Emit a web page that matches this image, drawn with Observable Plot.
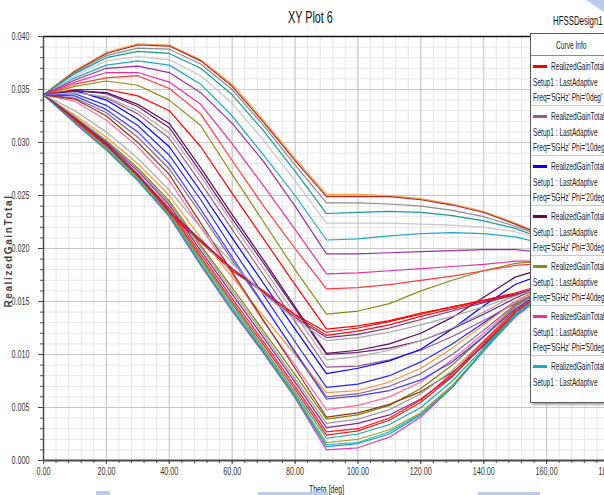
<!DOCTYPE html>
<html><head><meta charset="utf-8">
<script src="https://cdn.jsdelivr.net/npm/d3@7"></script>
<script src="https://cdn.jsdelivr.net/npm/@observablehq/plot@0.6"></script>
<style>
html,body{margin:0;padding:0;background:#fff;}
body{width:604px;height:495px;overflow:hidden;position:relative;font-family:"Liberation Sans",Arial,sans-serif;}
#chart{position:absolute;left:0;top:0;width:620px;}
#chart svg{max-width:none !important;}
.abs{position:absolute;white-space:nowrap;line-height:1.1;}
.sq{display:inline-block;transform-origin:0 50%;}
#legend{position:absolute;left:530px;top:33px;width:110px;height:368px;border:1px solid #5a5a5a;background:#fff;box-shadow:2px 2px 2px #aaa;overflow:hidden;}
#legend .hdr{position:absolute;left:0;top:0;height:21px;border-bottom:1px solid #8a8a8a;width:110px;}
#legend .entry{position:absolute;left:0;width:110px;height:50px;border-bottom:1px solid #c8c8c8;}
#legend .ln{position:absolute;font-size:11px;color:#222;line-height:12px;white-space:nowrap;transform:scaleX(0.6);transform-origin:0 50%;}
#legend .sw{position:absolute;left:2px;width:14px;height:3px;}
.deco{position:absolute;background:#b9cbef;}
</style></head><body>
<div id="chart"></div>
<script>
// ---- data ----
const theta = [0,10,20,30,40,50,60,70,80,90,100,110,120,130,140,150,160,170,180];
const phiValues = [0,10,20,30,40,50,60,70,80,90,100,110,120,130,140,150,160,170,180,190,200,210,220,230,240,250,260,270,280,290,300,310,320,330,340,350];

const gPhi0   = [0.0345,0.0322,0.0297,0.0268,0.0232,0.0206,0.0179,0.0159,0.0138,0.0121,0.0125,0.0131,0.0138,0.0145,0.0151,0.0157,0.0166,0.0176,0.0185];
const gPhi10  = [0.0345,0.0348,0.0342,0.0327,0.0304,0.0262,0.0218,0.0175,0.0131,0.0088,0.0089,0.0095,0.0104,0.0117,0.0132,0.0148,0.0163,0.0175,0.0185];
const gPhi20  = [0.0345,0.0349,0.0340,0.0322,0.0296,0.0254,0.0210,0.0167,0.0124,0.0082,0.0087,0.0094,0.0105,0.0124,0.0146,0.0166,0.0177,0.0183,0.0185];
const gPhi30  = [0.0345,0.0349,0.0347,0.0336,0.0318,0.0276,0.0232,0.0189,0.0145,0.0101,0.0104,0.0110,0.0120,0.0135,0.0154,0.0173,0.0182,0.0185,0.0185];
const gPhi40  = [0.0345,0.0353,0.0358,0.0354,0.0340,0.0316,0.0270,0.0225,0.0180,0.0138,0.0141,0.0148,0.0160,0.0170,0.0179,0.0186,0.0188,0.0187,0.0185];
const gPhi50  = [0.0345,0.0357,0.0366,0.0366,0.0357,0.0336,0.0299,0.0259,0.0218,0.0176,0.0177,0.0179,0.0181,0.0183,0.0185,0.0188,0.0188,0.0187,0.0185];
const gPhi60  = [0.0345,0.0361,0.0373,0.0377,0.0373,0.0355,0.0325,0.0288,0.0250,0.0208,0.0209,0.0212,0.0214,0.0215,0.0214,0.0211,0.0204,0.0195,0.0185];
const gPhi70  = [0.0345,0.0363,0.0377,0.0381,0.0378,0.0363,0.0337,0.0302,0.0264,0.0224,0.0224,0.0224,0.0223,0.0222,0.0220,0.0216,0.0207,0.0196,0.0185];
const gPhi80  = [0.0345,0.0368,0.0385,0.0393,0.0392,0.0378,0.0355,0.0321,0.0285,0.0251,0.0251,0.0250,0.0247,0.0242,0.0235,0.0224,0.0212,0.0198,0.0185];
const gPhi90  = [0.0345,0.0367,0.0384,0.0392,0.0391,0.0377,0.0353,0.0319,0.0283,0.0249,0.0249,0.0249,0.0246,0.0241,0.0234,0.0223,0.0211,0.0198,0.0185];
const gPhi100 = [0.0345,0.0366,0.0382,0.0389,0.0388,0.0374,0.0350,0.0316,0.0279,0.0243,0.0243,0.0242,0.0240,0.0236,0.0230,0.0221,0.0210,0.0197,0.0185];
const gPhi110 = [0.0345,0.0365,0.0380,0.0386,0.0384,0.0370,0.0345,0.0311,0.0273,0.0233,0.0234,0.0235,0.0234,0.0231,0.0226,0.0219,0.0208,0.0196,0.0185];
const gPhi120 = [0.0345,0.0359,0.0370,0.0372,0.0366,0.0347,0.0318,0.0282,0.0240,0.0195,0.0195,0.0196,0.0197,0.0198,0.0199,0.0199,0.0196,0.0191,0.0185];
const gPhi130 = [0.0345,0.0339,0.0321,0.0296,0.0264,0.0220,0.0176,0.0131,0.0090,0.0048,0.0052,0.0060,0.0074,0.0095,0.0120,0.0146,0.0164,0.0176,0.0185];
const gPhi140 = [0.0345,0.0355,0.0361,0.0363,0.0351,0.0327,0.0283,0.0240,0.0200,0.0162,0.0163,0.0166,0.0170,0.0174,0.0179,0.0184,0.0186,0.0186,0.0185];
const gPhi150 = [0.0345,0.0350,0.0350,0.0344,0.0330,0.0296,0.0252,0.0209,0.0166,0.0124,0.0127,0.0132,0.0139,0.0145,0.0151,0.0158,0.0167,0.0176,0.0185];
const gPhi160 = [0.0345,0.0342,0.0328,0.0305,0.0275,0.0233,0.0189,0.0146,0.0103,0.0060,0.0063,0.0070,0.0082,0.0100,0.0123,0.0147,0.0164,0.0176,0.0185];
const gPhi170 = [0.0345,0.0346,0.0335,0.0316,0.0288,0.0246,0.0200,0.0156,0.0112,0.0069,0.0072,0.0080,0.0093,0.0110,0.0130,0.0150,0.0165,0.0177,0.0185];
const gPhi180 = [0.0345,0.0349,0.0346,0.0334,0.0314,0.0272,0.0228,0.0186,0.0143,0.0100,0.0102,0.0106,0.0113,0.0124,0.0138,0.0153,0.0166,0.0177,0.0185];
const gPhi190 = [0.0345,0.0324,0.0302,0.0276,0.0245,0.0203,0.0163,0.0122,0.0081,0.0039,0.0043,0.0052,0.0068,0.0090,0.0117,0.0145,0.0163,0.0176,0.0185];
const gPhi200 = [0.0345,0.0318,0.0293,0.0264,0.0230,0.0184,0.0141,0.0101,0.0059,0.0010,0.0012,0.0022,0.0041,0.0069,0.0104,0.0135,0.0158,0.0174,0.0185];
const gPhi210 = [0.0345,0.0319,0.0294,0.0265,0.0232,0.0186,0.0144,0.0103,0.0061,0.0015,0.0017,0.0027,0.0044,0.0070,0.0103,0.0136,0.0159,0.0174,0.0185];
const gPhi220 = [0.0345,0.0347,0.0343,0.0330,0.0309,0.0268,0.0224,0.0181,0.0138,0.0095,0.0098,0.0104,0.0113,0.0125,0.0140,0.0156,0.0168,0.0178,0.0185];
const gPhi230 = [0.0345,0.0326,0.0305,0.0280,0.0250,0.0210,0.0173,0.0136,0.0100,0.0064,0.0066,0.0074,0.0087,0.0106,0.0128,0.0150,0.0165,0.0177,0.0185];
const gPhi240 = [0.0345,0.0341,0.0325,0.0300,0.0270,0.0224,0.0178,0.0132,0.0087,0.0041,0.0045,0.0053,0.0065,0.0083,0.0108,0.0138,0.0160,0.0175,0.0185];
const gPhi250 = [0.0345,0.0324,0.0301,0.0275,0.0243,0.0201,0.0160,0.0119,0.0077,0.0035,0.0039,0.0048,0.0063,0.0085,0.0113,0.0142,0.0162,0.0176,0.0185];
const gPhi260 = [0.0345,0.0320,0.0296,0.0267,0.0234,0.0190,0.0148,0.0106,0.0064,0.0021,0.0025,0.0034,0.0050,0.0075,0.0106,0.0138,0.0160,0.0175,0.0185];
const gPhi270 = [0.0345,0.0323,0.0300,0.0273,0.0241,0.0198,0.0157,0.0116,0.0074,0.0031,0.0035,0.0043,0.0058,0.0080,0.0109,0.0140,0.0161,0.0175,0.0185];
const gPhi280 = [0.0345,0.0320,0.0295,0.0266,0.0233,0.0188,0.0146,0.0104,0.0062,0.0017,0.0020,0.0029,0.0045,0.0071,0.0104,0.0137,0.0160,0.0174,0.0185];
const gPhi290 = [0.0345,0.0322,0.0298,0.0270,0.0238,0.0195,0.0153,0.0112,0.0070,0.0027,0.0030,0.0040,0.0057,0.0082,0.0112,0.0142,0.0162,0.0175,0.0185];
const gPhi300 = [0.0345,0.0321,0.0297,0.0269,0.0236,0.0192,0.0150,0.0109,0.0067,0.0024,0.0028,0.0038,0.0055,0.0079,0.0110,0.0140,0.0161,0.0175,0.0185];
const gPhi310 = [0.0345,0.0344,0.0331,0.0310,0.0280,0.0237,0.0192,0.0147,0.0102,0.0058,0.0061,0.0066,0.0076,0.0093,0.0117,0.0143,0.0162,0.0175,0.0185];
const gPhi320 = [0.0345,0.0319,0.0293,0.0264,0.0231,0.0185,0.0142,0.0102,0.0060,0.0013,0.0016,0.0025,0.0043,0.0069,0.0104,0.0137,0.0159,0.0174,0.0185];
const gPhi330 = [0.0345,0.0323,0.0298,0.0269,0.0234,0.0207,0.0181,0.0160,0.0137,0.0118,0.0122,0.0128,0.0136,0.0143,0.0150,0.0156,0.0166,0.0176,0.0185];
const gPhi340 = [0.0345,0.0323,0.0299,0.0270,0.0236,0.0208,0.0181,0.0158,0.0135,0.0116,0.0119,0.0125,0.0133,0.0141,0.0149,0.0156,0.0166,0.0176,0.0185];
const gPhi350 = [0.0345,0.0330,0.0310,0.0285,0.0255,0.0220,0.0186,0.0157,0.0133,0.0113,0.0116,0.0121,0.0128,0.0136,0.0145,0.0155,0.0165,0.0176,0.0185];

const curveColors = ["#ff0000","#9a5a8c","#0000ff","#5c0a5c","#8c8c14","#e8309c","#20a8c8","#c8c8c8","#f5a04a","#a52a2a","#8c8c8c","#199999","#9b2ea0","#ff6aa0","#ff3a3a","#ff0000","#8a6090","#2a2ae6","#6a1e6a","#7f7f00","#e43cb4","#3ab8cc","#b4aab4","#f59a3c","#8b3a1a","#9c9c9c","#1fa5a5","#7e2888","#a0a028","#ff1a1a","#e62020","#3a3aff","#12a0b4","#ee1111","#7a3080","#a8a8a8"];

const yMajor = [0,0.005,0.010,0.015,0.020,0.025,0.030,0.035,0.040];
const xMajor = [0,20,40,60,80,100,120,140,160,180];

// ---- build ----
const series = [gPhi0,gPhi10,gPhi20,gPhi30,gPhi40,gPhi50,gPhi60,gPhi70,gPhi80,gPhi90,gPhi100,gPhi110,gPhi120,gPhi130,gPhi140,gPhi150,gPhi160,gPhi170,gPhi180,gPhi190,gPhi200,gPhi210,gPhi220,gPhi230,gPhi240,gPhi250,gPhi260,gPhi270,gPhi280,gPhi290,gPhi300,gPhi310,gPhi320,gPhi330,gPhi340,gPhi350];
const phiNames = phiValues.map(p => `Phi='${p}deg'`);
const rows = [];
series.forEach((s, i) => s.forEach((g, j) => rows.push({theta: theta[j], gain: g, phi: phiNames[i]})));

const xMinor = d3.range(0, 181, 4);
const yMinor = d3.range(0, 41).map(d => d / 1000);

try {
const chart = Plot.plot({
  width: 620, height: 495,
  marginLeft: 43, marginRight: 11, marginTop: 36, marginBottom: 35,
  style: {fontFamily: '"Liberation Sans",Arial,sans-serif', fontSize: "10px", color: "#333", background: "transparent", maxWidth: "none"},
  x: {domain: [0, 180]},
  y: {domain: [0, 0.040]},
  color: {domain: phiNames, range: curveColors},
  marks: [
    Plot.gridX(xMinor, {stroke: "#e6e6e6", strokeOpacity: 1}),
    Plot.gridY(yMinor, {stroke: "#e6e6e6", strokeOpacity: 1}),
    Plot.gridX(xMajor, {stroke: "#c6c6c6", strokeOpacity: 1}),
    Plot.gridY(yMajor, {stroke: "#c6c6c6", strokeOpacity: 1}),
    Plot.line(rows, {x: "theta", y: "gain", z: "phi", stroke: "phi", strokeWidth: 1.2}),
    Plot.ruleY([0.040], {stroke: "#111", strokeWidth: 1.5}),
    Plot.ruleX([180], {stroke: "#111", strokeWidth: 1.5}),
    Plot.ruleY([0], {stroke: "#4a4a4a", strokeWidth: 2}),
    Plot.ruleX([0], {stroke: "#4a4a4a", strokeWidth: 1.5}),
    Plot.axisY(yMinor, {tickSize: 3, tickFormat: () => "", label: null, stroke: "#4a4a4a"}),
    Plot.axisY(yMajor, {tickSize: 5, tickPadding: 9, tickFormat: d => d.toFixed(3), label: null, stroke: "#4a4a4a"}),
    Plot.axisX(xMinor, {tickSize: 3, tickFormat: () => "", label: null, stroke: "#4a4a4a"}),
    Plot.axisX(xMajor, {tickSize: 4, tickPadding: 3, tickFormat: d => d.toFixed(2), label: null, stroke: "#4a4a4a"})
  ]
});
chart.style.maxWidth = "none";
document.getElementById("chart").appendChild(chart);
// compress tick label glyphs horizontally like the original renderer
chart.querySelectorAll("text").forEach(t => {
  const L = t.getComputedTextLength();
  if (L > 0) { t.setAttribute("textLength", (L * 0.72).toFixed(2)); t.setAttribute("lengthAdjust", "spacingAndGlyphs"); }
});
} catch (e) {
  document.body.insertAdjacentHTML("beforeend", `<pre>${e}</pre>`);
}

// ---- text overlays ----
function addText(txt, left, top, size, scale, extra) {
  const d = document.createElement("div");
  d.className = "abs";
  d.style.left = left + "px"; d.style.top = top + "px";
  d.innerHTML = `<span class="sq" style="font-size:${size}px;transform:scaleX(${scale});${extra||""}">${txt}</span>`;
  document.body.appendChild(d);
  return d;
}
addText("XY Plot 6", 288, 9, 17, 0.635, "color:#111;");
addText("HFSSDesign1", 553, 11, 13.5, 0.58, "color:#111;");
addText("Theta [deg]", 309, 479, 10.5, 0.66, "color:#222;line-height:12px;");

const yl = document.createElement("div");
yl.className = "abs";
yl.style.cssText = "left:8px;top:251px;transform:translate(-50%,-50%) rotate(-90deg);font-family:'Liberation Sans',Arial,sans-serif;font-weight:bold;font-size:10px;letter-spacing:1.6px;color:#444;";
yl.textContent = "RealizedGainTotal";
document.body.appendChild(yl);

// ---- legend (first curves) ----
const legend = document.createElement("div");
legend.id = "legend";
legend.innerHTML = `<div class="hdr"><div class="ln" style="left:25px;top:5px;">Curve Info</div></div>`;
const nLeg = 7;
for (let i = 0; i < nLeg; i++) {
  const e = document.createElement("div");
  e.className = "entry";
  e.style.top = (21 + i * 50) + "px";
  if (i === nLeg - 1) e.style.borderBottom = "none";
  let h = `<div class="sw" style="top:10px;background:${curveColors[i]}"></div>`;
  h += `<div class="ln" style="left:20px;top:5px;">RealizedGainTotal</div>`;
  h += `<div class="ln" style="left:2px;top:21px;">Setup1 : LastAdaptive</div>`;
  if (i < nLeg - 1) h += `<div class="ln" style="left:2px;top:36px;">Freq='5GHz' Phi='${phiValues[i]}deg'</div>`;
  e.innerHTML = h;
  legend.appendChild(e);
}
document.body.appendChild(legend);

// faint screen decorations at the edges of the original capture
[[96,491,14,4],[258,492,70,3],[478,492,62,3]].forEach(([l,t,w,h]) => {
  const d = document.createElement("div"); d.className = "deco";
  d.style.cssText += `left:${l}px;top:${t}px;width:${w}px;height:${h}px;`;
  document.body.appendChild(d);
});
const tri = document.createElement("div");
tri.style.cssText = "position:absolute;left:586px;top:0;width:0;height:0;border-left:18px solid transparent;border-top:12px solid #b9cbef;";
document.body.appendChild(tri);
</script>
</body></html>
